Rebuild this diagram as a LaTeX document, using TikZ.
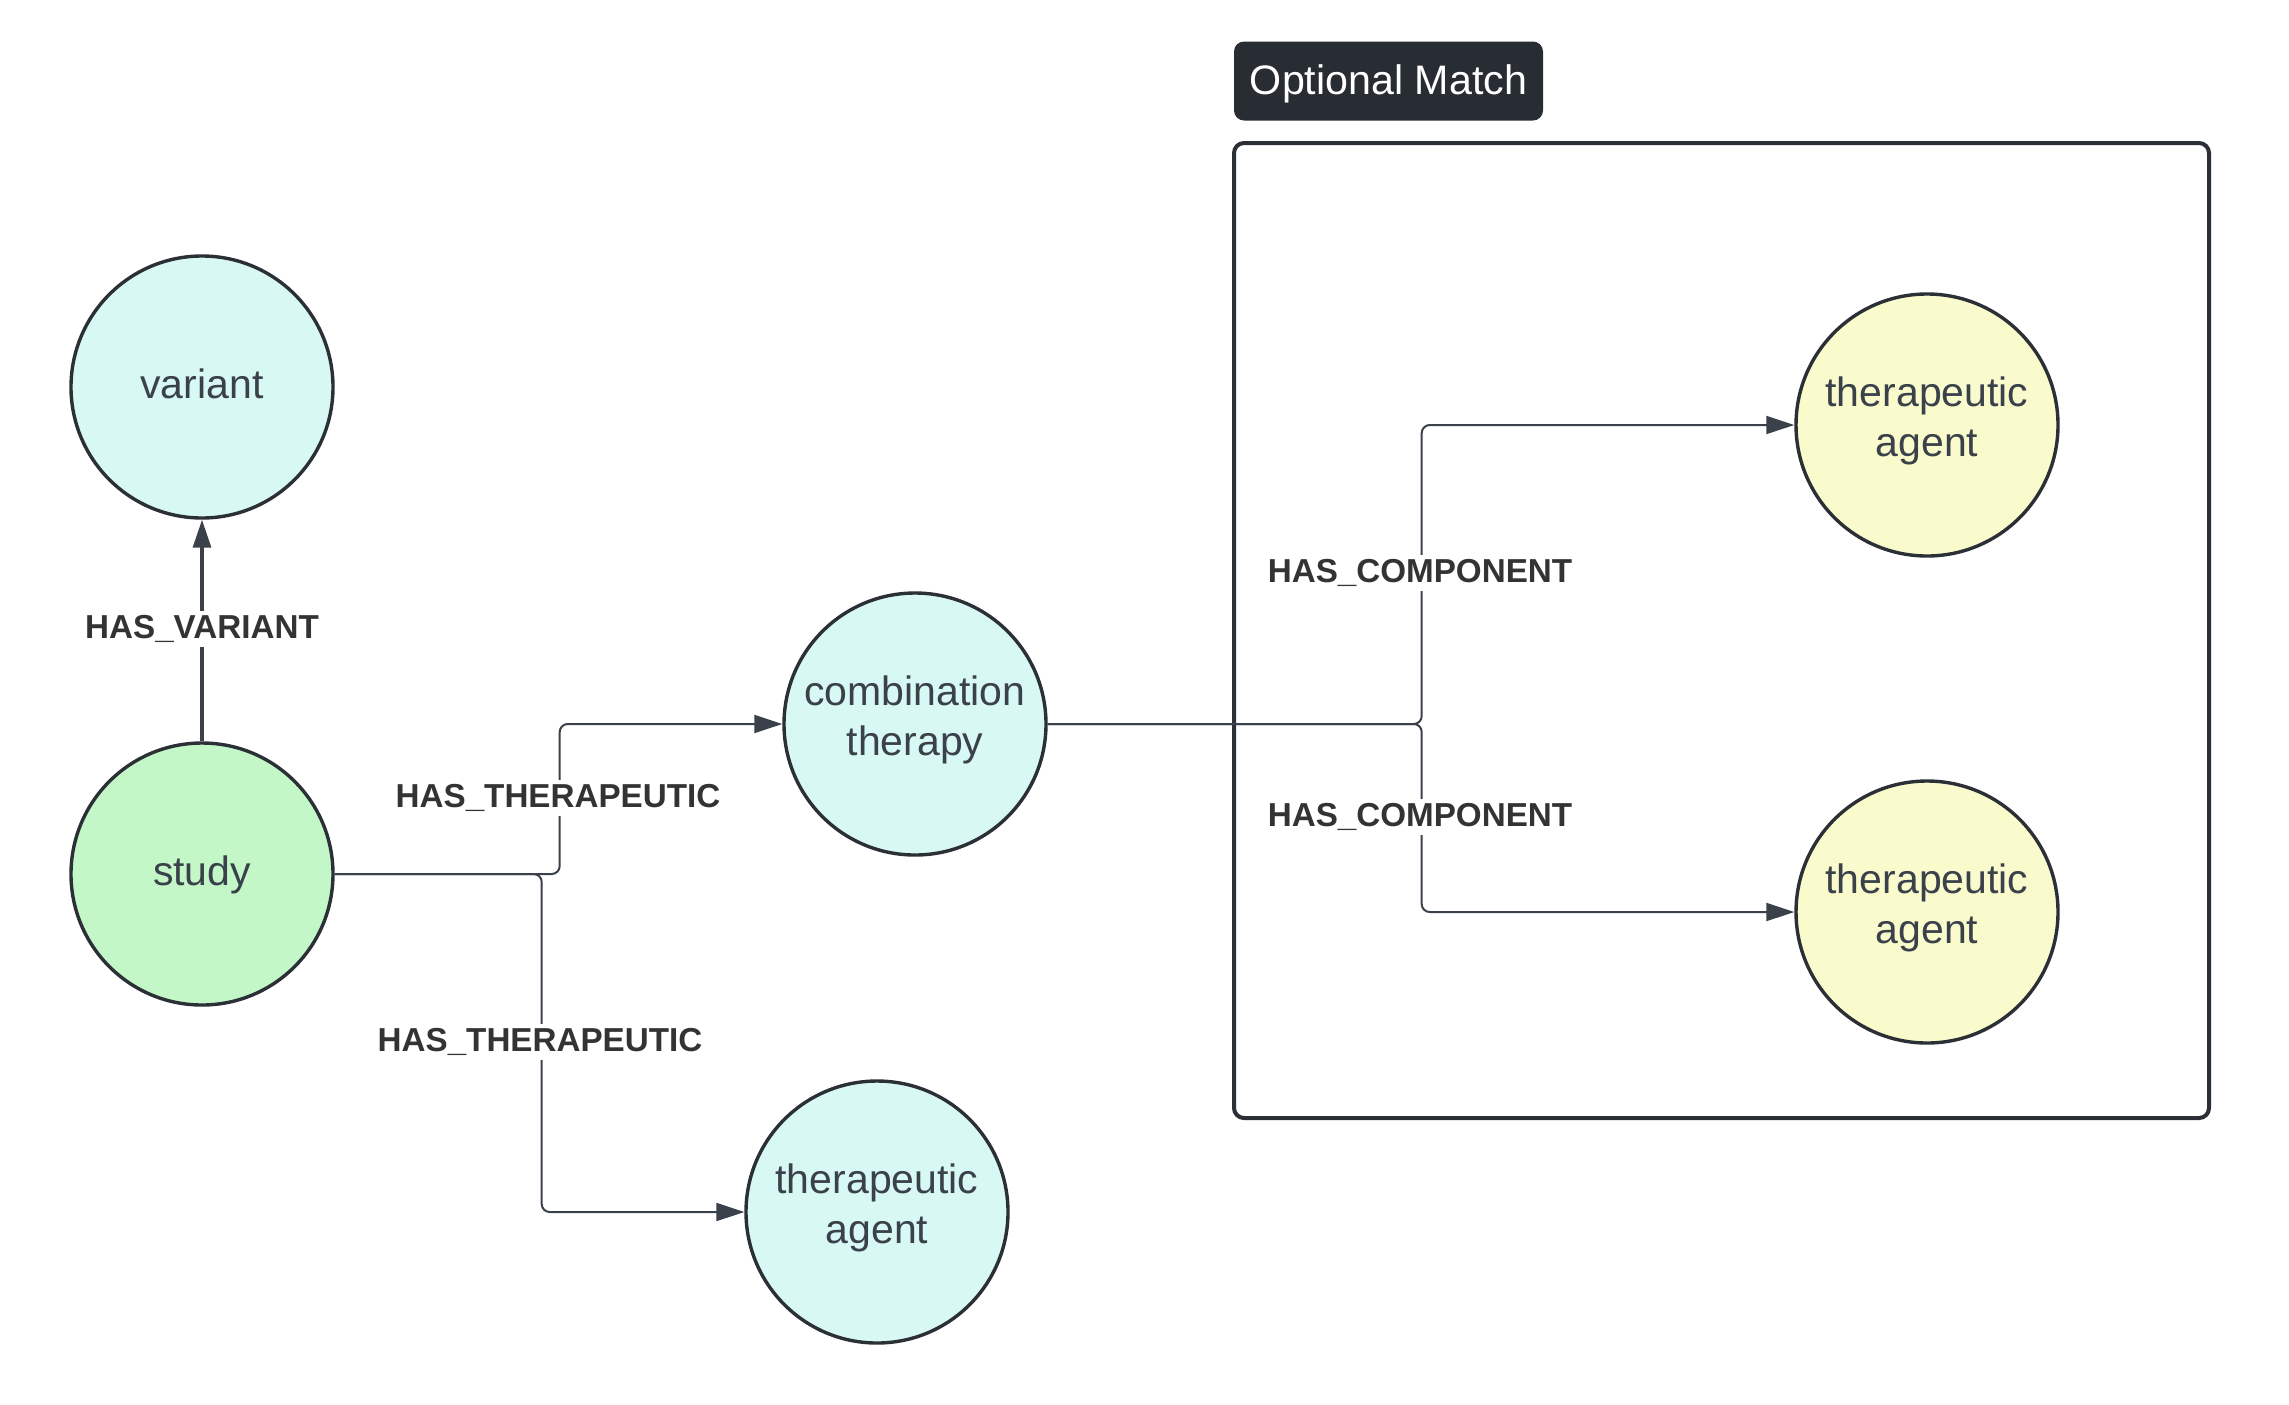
\documentclass[tikz,border=0pt]{standalone}
\usepackage{fontspec}
\setmainfont{Liberation Sans}
\usetikzlibrary{arrows.meta}
\definecolor{cstroke}{HTML}{2B2F36}
\definecolor{ctext}{HTML}{3A414B}
\definecolor{cline}{HTML}{3A414A}
\definecolor{clbl}{HTML}{333333}
\definecolor{fcyan}{HTML}{D7F8F3}
\definecolor{fgreen}{HTML}{C3F7C8}
\definecolor{fyellow}{HTML}{FAFBCC}
\definecolor{cdark}{HTML}{282C33}
\newcommand\topst{\rule{0pt}{15pt}}
\newcommand\botst{\rule[-8.8pt]{0pt}{0pt}}
\tikzset{
  x=0.5pt, y=-0.5pt,
  ent/.style={circle, draw=cstroke, line width=1.7pt, minimum size=131pt, inner sep=0pt,
    text=ctext, align=center, font=\fontsize{20.5}{25}\selectfont},
  one/.style={text height=15pt, text depth=3.6pt},
  conn/.style={draw=cline, line width=1pt, rounded corners=4pt,
    -{Triangle[length=14pt,width=9pt]}},
  lbl/.style={fill=white, text=clbl, inner sep=2pt, font=\fontsize{16.6}{19}\selectfont\bfseries},
}
\begin{document}
\begin{tikzpicture}
\useasboundingbox (0,0) rectangle (2289,1404);
% group box
\draw[draw=cstroke, line width=2pt, rounded corners=5pt] (1234,143) rectangle (2209,1118);
\node[fill=cdark, text=white, rounded corners=5pt, minimum width=154.5pt, minimum height=39.5pt,
  inner sep=0pt, text height=17.3pt, text depth=4.3pt,
  font=\fontsize{20.6}{25}\selectfont] (om) at (1388.5,81) {Optional Match};
% nodes
\node[ent, one, fill=fcyan] (variant) at (202,387) {variant};
\node[ent, one, fill=fgreen] (study) at (202,874) {study};
\node[ent, fill=fcyan] (combo) at (915,724) {\topst combination\\therapy\botst};
\node[ent, fill=fcyan] (ta1) at (877,1212) {\topst therapeutic\\agent\botst};
\node[ent, fill=fyellow] (ta2) at (1927,425) {\topst therapeutic\\agent\botst};
\node[ent, fill=fyellow] (ta3) at (1927,912) {\topst therapeutic\\agent\botst};
% connectors
\draw[conn, line width=1.6pt] (study.north) -- (variant.south);
\draw[conn] (study.east) -- ++(225,0) |- (combo.west);
\draw[conn] (study.east) -- ++(207,0) |- (ta1.west);
\draw[conn] (combo.east) -- ++(374,0) |- (ta2.west);
\draw[conn] (combo.east) -- ++(374,0) |- (ta3.west);
% labels
\node[lbl] (l1) at (202,629) {HAS\_VARIANT};
\node[lbl] (l2) at (558,798) {HAS\_THERAPEUTIC};
\node[lbl] (l3) at (540,1042) {HAS\_THERAPEUTIC};
\node[lbl] (l4) at (1420,573) {HAS\_COMPONENT};
\node[lbl] (l5) at (1420,817) {HAS\_COMPONENT};
\end{tikzpicture}
\end{document}
